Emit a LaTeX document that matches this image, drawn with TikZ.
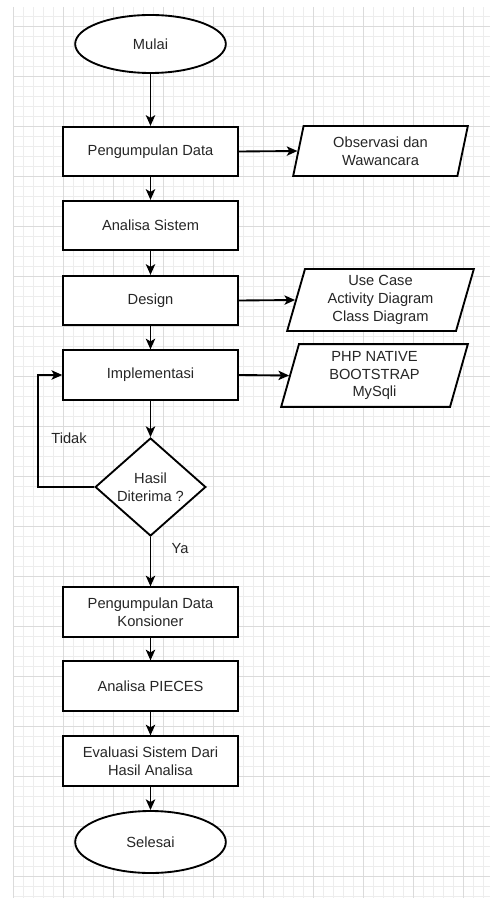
\documentclass[tikz,border=0pt]{standalone}
\usepackage{fontspec}
\setmainfont{Liberation Sans}
\usetikzlibrary{shapes.geometric,arrows.meta}

\definecolor{gridminor}{rgb}{0.93,0.93,0.93}
\definecolor{gridmajor}{rgb}{0.86,0.86,0.86}
\definecolor{teksabu}{rgb}{0.15,0.15,0.15}

\tikzset{every picture/.style={line width=0.75pt}}
\tikzset{
  dasar/.style={draw, fill=white, line width=1.4pt, inner sep=0pt, align=center, text=teksabu,
    font=\fontsize{11}{13.4}\selectfont},
  prosesbox/.style={dasar, rectangle, minimum width=131pt, minimum height=37pt},
  terminal/.style={dasar, ellipse, minimum width=113pt, minimum height=44pt},
  keputusan/.style={dasar, diamond, shape aspect=1.13, minimum width=83pt, minimum height=73.5pt},
  datashape/.style={dasar, trapezium, trapezium left angle=70, trapezium right angle=110,
    trapezium stretches body},
  teks/.style={inner sep=0pt, text=teksabu, font=\fontsize{11}{13.4}\selectfont},
  panah/.style={line width=1.4pt, -{Stealth[length=8pt,width=7pt,inset=2pt]}}
}

\begin{document}
\begin{tikzpicture}[x=0.75pt,y=0.75pt,yscale=-1,xscale=1]
\useasboundingbox (0,0) rectangle (490,898);

% grid background
\foreach \gx in {13,23,...,483} \draw[gridminor, line width=0.5pt] (\gx,7) -- (\gx,898);
\foreach \gy in {16,26,...,896} \draw[gridminor, line width=0.5pt] (13,\gy) -- (490,\gy);
\foreach \gx in {13,63,...,463} \draw[gridmajor, line width=0.6pt] (\gx,7) -- (\gx,898);
\foreach \gy in {26,76,...,876} \draw[gridmajor, line width=0.6pt] (13,\gy) -- (490,\gy);

% main flow
\node[terminal, minimum height=43.5pt] (mulai) at (150.5,44) {Mulai};
\node[prosesbox] (pengumpulan) at (150.5,151.5) {Pengumpulan Data};
\node[prosesbox] (analisa) at (150.5,225.5) {Analisa Sistem};
\node[prosesbox] (design) at (150.5,300.5) {Design};
\node[prosesbox] (implementasi) at (150.5,375) {Implementasi};
\node[keputusan] (hasil) at (150.5,487) {Hasil\\Diterima ?};
\node[prosesbox] (konsioner) at (150.5,612) {Pengumpulan Data\\Konsioner};
\node[prosesbox] (pieces) at (150.5,686) {Analisa PIECES};
\node[prosesbox] (evaluasi) at (150.5,761) {Evaluasi Sistem Dari\\Hasil Analisa};
\node[terminal, minimum height=46.5pt] (selesai) at (150.5,842) {Selesai};

% outputs
\node[datashape, minimum width=131pt, minimum height=37.5pt] (observasi) at (380.5,151) {Observasi dan\\Wawancara};
\node[datashape, minimum width=140pt, minimum height=46.5pt] (usecase) at (380.5,300) {Use Case\\Activity Diagram\\Class Diagram};
\node[datashape, minimum width=140pt, minimum height=47pt] (php) at (374.5,375.5) {PHP NATIVE\\BOOTSTRAP\\MySqli};

% labels
\node[teks] (tidak) at (69,438) {Tidak};
\node[teks] (ya) at (180,549) {Ya};
\coordinate (belok) at (38,487);

% connectors
\draw[panah] (mulai) -- (pengumpulan);
\draw[panah] (pengumpulan) -- (analisa);
\draw[panah] (analisa) -- (design);
\draw[panah] (design) -- (implementasi);
\draw[panah] (implementasi) -- (hasil);
\draw[panah] (hasil) -- (konsioner);
\draw[panah] (konsioner) -- (pieces);
\draw[panah] (pieces) -- (evaluasi);
\draw[panah] (evaluasi) -- (selesai);
\draw[panah] (pengumpulan.east) -- (observasi.west);
\draw[panah] (design.east) -- (usecase.west);
\draw[panah] (implementasi.east) -- (php.west);
\draw[panah] (hasil.west) -- (belok) |- (implementasi.west);

\end{tikzpicture}
\end{document}
